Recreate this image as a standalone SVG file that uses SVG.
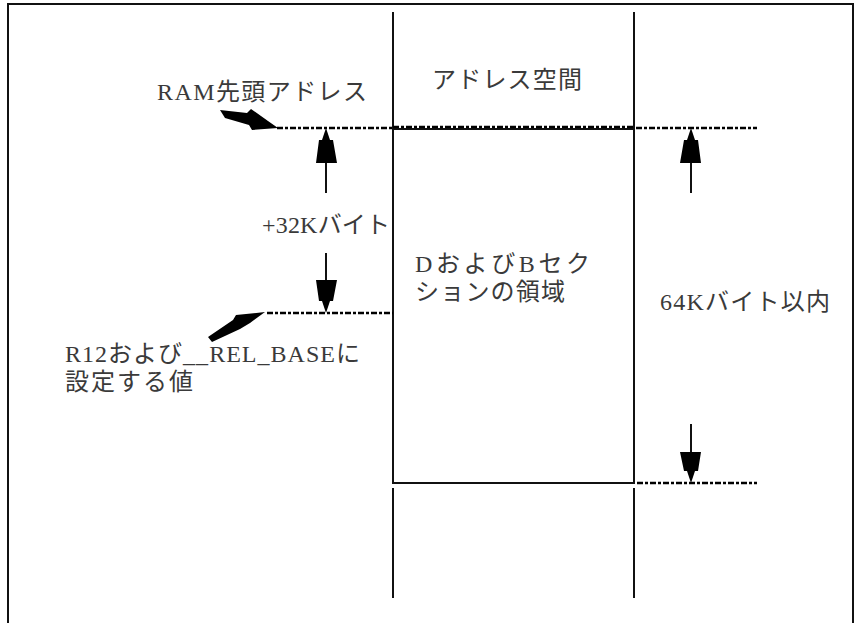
<svg xmlns="http://www.w3.org/2000/svg" width="861" height="623" viewBox="0 0 861 623">
<style>
  .ln{stroke:#111;stroke-width:2;fill:none}
  .dash{stroke:#000;stroke-width:2.4;fill:none;stroke-dasharray:6 2 3 2}
  .ah{fill:#000;stroke:none}
  .t{font-family:"Liberation Serif","Noto Sans CJK JP",serif;font-size:24px;fill:#3a3a3a}
</style>
<rect width="861" height="623" fill="#fff"/>
<path d="M8,630 V4 H853 V630" fill="none" stroke="#111" stroke-width="2"/>

<g id="address-space">
  <line class="ln" x1="393" y1="12" x2="393" y2="128"/>
  <line class="ln" x1="634" y1="12" x2="634" y2="128"/>
  <text class="t" x="432" y="88" textLength="150" lengthAdjust="spacing">アドレス空間</text>
</g>

<g id="db-section">
  <rect x="393" y="129" width="241" height="354" fill="none" stroke="#111" stroke-width="2"/>
  <line x1="393" y1="127" x2="634" y2="127" class="dash"/>
  <text class="t" x="415" y="272" textLength="175" lengthAdjust="spacing">DおよびBセク</text>
  <text class="t" x="415" y="300" textLength="150" lengthAdjust="spacing">ションの領域</text>
</g>

<g id="below">
  <line class="ln" x1="393" y1="488" x2="393" y2="598"/>
  <line class="ln" x1="634" y1="488" x2="634" y2="598"/>
</g>

<g id="ram-label">
  <text class="t" x="157" y="100" textLength="210" lengthAdjust="spacing">RAM先頭アドレス</text>
</g>

<g id="r12-label">
  <text class="t" x="65" y="362" textLength="295" lengthAdjust="spacing">R12および__REL_BASEに</text>
  <text class="t" x="65" y="390" textLength="128" lengthAdjust="spacing">設定する値</text>
</g>

<g id="size32-label">
  <text class="t" x="262" y="233" textLength="128" lengthAdjust="spacing">+32Kバイト</text>
</g>

<g id="size64-label">
  <text class="t" x="660" y="310" textLength="170" lengthAdjust="spacing">64Kバイト以内</text>
</g>

<g id="connectors">
  <line class="dash" x1="277" y1="128" x2="393" y2="128"/>
  <line class="dash" x1="636" y1="128" x2="757" y2="128"/>
  <line class="dash" x1="267" y1="313" x2="393" y2="313"/>
  <line class="dash" x1="637" y1="483" x2="757" y2="483"/>

  <polygon class="ah" points="220,110 247,113 251,109 268,121 278,128 252,130 249,125 225,118"/>
  <polygon class="ah" points="208,337 233,320 236,315 265,312 250,323 240,329 212,342"/>

  <line class="ln" x1="326" y1="160" x2="326" y2="193"/>
  <polygon class="ah" points="326,128 330,140 333,140 337,163 316,163 319,140 322,140"/>
  <line class="ln" x1="326" y1="253" x2="326" y2="283"/>
  <polygon class="ah" points="326,313 322,301 319,301 316,280 337,280 333,301 330,301"/>

  <line class="ln" x1="691" y1="160" x2="691" y2="193"/>
  <polygon class="ah" points="691,128 695,140 698,140 701,163 680,163 684,140 687,140"/>
  <line class="ln" x1="691" y1="424" x2="691" y2="455"/>
  <polygon class="ah" points="691,483 687,471 684,471 680,452 701,452 698,471 695,471"/>
</g>
</svg>
